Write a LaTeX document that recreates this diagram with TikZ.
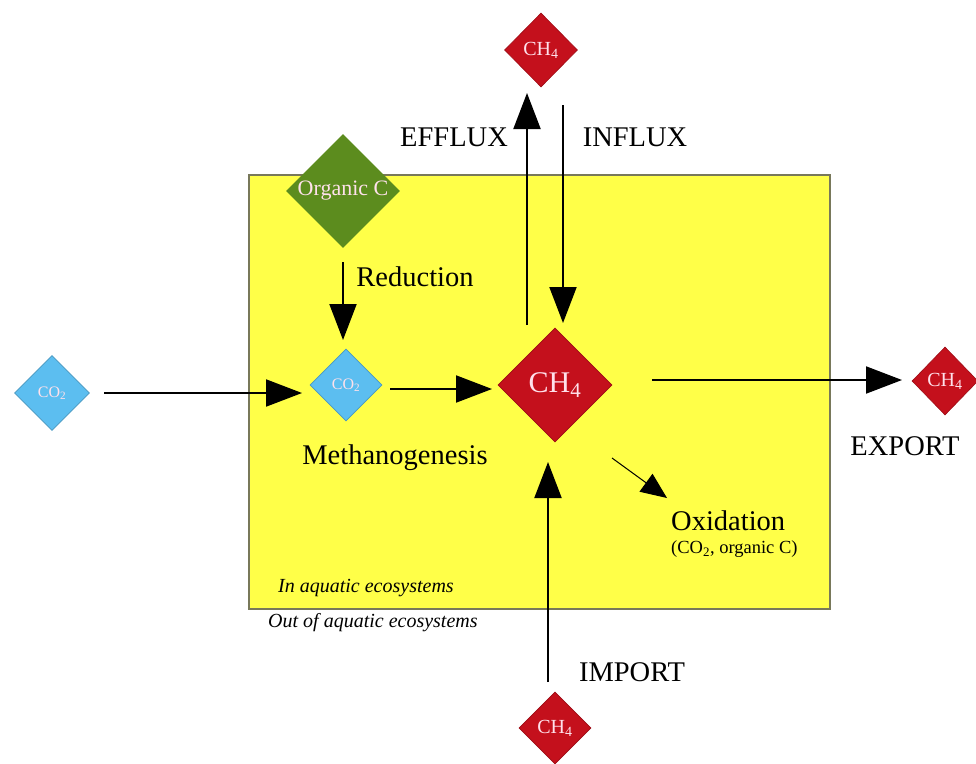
\documentclass[tikz,border=0pt]{standalone}
\usepackage{fontspec}
\setmainfont{Liberation Serif}
\usetikzlibrary{shapes.geometric,arrows.meta}
\definecolor{boxyellow}{RGB}{255,255,72}
\definecolor{boxedge}{RGB}{120,120,90}
\definecolor{chred}{RGB}{196,16,28}
\definecolor{coblue}{RGB}{92,190,240}
\definecolor{orggreen}{RGB}{92,140,30}
\definecolor{diamtext}{RGB}{255,225,235}
\tikzset{
  x=1pt,y=-1pt,
  diam/.style={shape=diamond,aspect=1,inner sep=0pt,text=diamtext},
  bigdiam/.style={diam,minimum width=114pt,minimum height=114pt,font=\fontsize{30}{32}\selectfont},
  smalldiam/.style={diam,minimum width=72pt,minimum height=72pt,font=\fontsize{20}{22}\selectfont},
  reddiam/.style={fill=chred,draw=chred!80!black,line width=0.6pt},
  bluediam/.style={fill=coblue,draw=coblue!80!black,line width=0.6pt},
  label/.style={font=\fontsize{28.5}{30}\selectfont,inner sep=0pt},
  flow/.style={draw=black,line width=2pt,-{Triangle[length=36pt,width=27pt]}},
  thinflow/.style={draw=black,line width=1pt,-{Triangle[length=26pt,width=22pt]}},
  note/.style={font=\itshape\fontsize{20}{22}\selectfont,inner sep=0pt,anchor=west}
}
\begin{document}
\begin{tikzpicture}
\useasboundingbox (0,0) rectangle (976,763);
\node[draw=boxedge,fill=boxyellow,line width=1.5pt,minimum width=581pt,minimum height=434pt,inner sep=0pt] (box) at (539.5,392) {};
% diamonds
\node[diam,fill=orggreen,minimum width=114pt,minimum height=114pt,font=\fontsize{22}{24}\selectfont] (org) at (343,191) {Organic C};
\node[smalldiam,bluediam,font=\fontsize{16}{18}\selectfont] (co2in) at (346,385) {CO\textsubscript{2}};
\node[smalldiam,bluediam,font=\fontsize{16}{18}\selectfont,minimum width=75pt,minimum height=75pt] (co2out) at (52,393) {CO\textsubscript{2}};
\node[bigdiam,reddiam] (ch4) at (555,385) {CH\textsubscript{4}};
\node[smalldiam,reddiam,minimum width=73pt,minimum height=74pt] (ch4top) at (541,50) {CH\textsubscript{4}};
\node[smalldiam,reddiam,minimum width=66pt,minimum height=68pt] (ch4right) at (945,381) {CH\textsubscript{4}};
\node[smalldiam,reddiam] (ch4bot) at (555,728) {CH\textsubscript{4}};
% arrow end points
\coordinate (redA) at (343,262);
\coordinate (redB) at (343,340);
\coordinate (inA) at (104,393);
\coordinate (inB) at (302,393);
\coordinate (mgA) at (390,389);
\coordinate (mgB) at (492,389);
\coordinate (efA) at (527,325);
\coordinate (efB) at (527,93);
\coordinate (ifA) at (563,105);
\coordinate (ifB) at (563,323);
\coordinate (exA) at (652,380);
\coordinate (exB) at (902,380);
\coordinate (oxA) at (612,458);
\coordinate (oxB) at (667,498);
\coordinate (imA) at (548,682);
\coordinate (imB) at (548,462);
% arrows
\draw[flow] (redA) -- (redB);
\draw[flow] (inA) -- (inB);
\draw[flow] (mgA) -- (mgB);
\draw[flow] (efA) -- (efB);
\draw[flow] (ifA) -- (ifB);
\draw[flow] (exA) -- (exB);
\draw[thinflow] (oxA) -- (oxB);
\draw[flow] (imA) -- (imB);
% labels
\node[label] (lred) at (415,277) {Reduction};
\node[label] (lmeth) at (395,458) {Methanogenesis};
\node[label] (leff) at (454,137) {EFFLUX};
\node[label] (linf) at (635,137) {INFLUX};
\node[label] (lexp) at (905,446) {EXPORT};
\node[label] (limp) at (632,672) {IMPORT};
\node[label,anchor=west] (lox) at (671,521) {Oxidation};
\node[font=\fontsize{18.5}{20}\selectfont,inner sep=0pt,anchor=west] (loxs) at (671,549) {(CO\textsubscript{2}, organic C)};
\node[note] (lin) at (278,588) {In aquatic ecosystems};
\node[note] (lout) at (268,623) {Out of aquatic ecosystems};
\end{tikzpicture}
\end{document}
